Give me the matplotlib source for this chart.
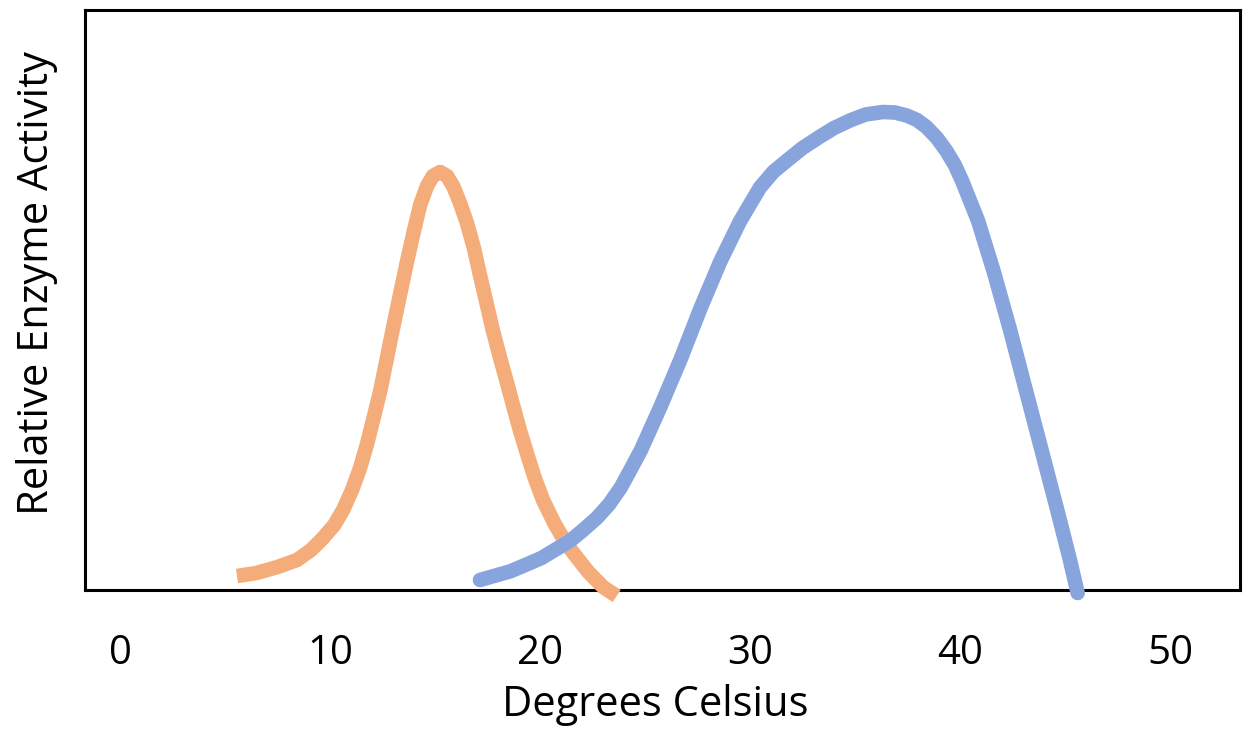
import matplotlib
matplotlib.use("Agg")
import matplotlib.pyplot as plt

# Data (x: degrees Celsius, y: relative activity, arbitrary units)
orange_x = [5.57, 6.5, 7.5, 8.43, 9.1, 9.67, 10.2, 10.62, 11.05, 11.43, 11.75, 12.05,
            12.4, 12.71, 13.0, 13.33, 13.65, 13.95, 14.29, 14.62, 14.9, 15.24, 15.57,
            15.86, 16.19, 16.52, 16.85, 17.14, 17.45, 17.76, 18.1, 18.43, 18.75, 19.05,
            19.4, 19.75, 20.14, 20.7, 21.29, 22.3, 23.0, 23.65]
orange_y = [14, 17, 23, 30, 40, 52, 65, 80, 100, 122, 145, 170,
            200, 232, 262, 295, 327, 355, 385, 404, 414, 418, 414,
            404, 387, 367, 342, 315, 287, 259, 232, 207, 182, 159,
            135, 112, 90, 66, 45, 18, 3, -6]

blue_x = [17.14, 17.8, 18.56, 19.3, 20.07, 20.7, 21.40, 22.0, 22.72, 23.3, 23.85, 24.3,
          24.80, 25.74, 26.69, 27.63, 28.58, 29.52, 30.47, 31.1, 31.79, 32.5, 33.30,
          34.0, 34.81, 35.5, 36.32, 36.9, 37.46, 37.95, 38.40, 38.9, 39.35, 39.75,
          40.10, 40.86, 41.61, 42.37, 43.13, 43.88, 44.64, 45.21, 45.6]
blue_y = [10, 14, 18.5, 25, 32, 40, 48.7, 59, 72.4, 86, 102.7, 120,
          139.7, 183.5, 230.6, 281.1, 328.3, 368.7, 402.4, 418, 430, 442, 453,
          462, 470, 475.5, 478, 477.5, 474.5, 470, 463, 452, 439, 425,
          409, 369, 318, 261, 200, 140, 79, 32, -3]

xticks = [0, 10, 20, 30, 40, 50]
xlabel = "Degrees Celsius"
ylabel = "Relative Enzyme Activity"

plt.rcParams['font.family'] = ['Open Sans', 'DejaVu Sans']

fig = plt.figure(figsize=(12.43, 7.35), dpi=100)
ax = fig.add_axes([85/1243, 1-590/735, 1155/1243, 580/735])

ax.plot(orange_x, orange_y, color='#F4AD7A', lw=10.5, solid_capstyle='butt',
        solid_joinstyle='round', clip_on=False, zorder=3)
ax.plot(blue_x, blue_y, color='#87A5DC', lw=10.5, solid_capstyle='round',
        solid_joinstyle='round', clip_on=False, zorder=3)

ax.set_xlim(-1.667, 53.33)
ax.set_ylim(0, 580)
ax.set_xticks(xticks)
ax.set_xticklabels([str(t) for t in xticks])
ax.set_yticks([])
ax.tick_params(axis='x', length=0, pad=31, labelsize=29)
for s in ax.spines.values():
    s.set_linewidth(2.2)
    s.set_color('black')
    s.set_zorder(2)

ax.set_xlabel(xlabel, fontsize=30)
ax.xaxis.set_label_coords(0.494, -0.162)
ax.set_ylabel(ylabel, fontsize=30)
ax.yaxis.set_label_coords(-0.023, 0.53)

fig.savefig("out.png", dpi=100)
